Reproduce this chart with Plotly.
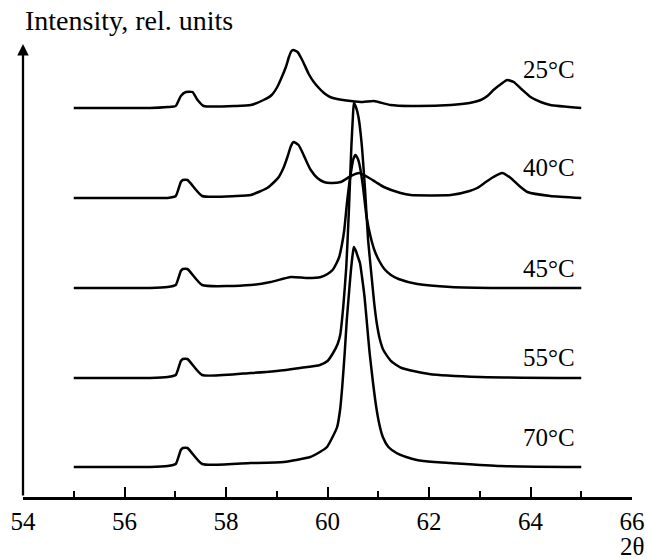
import plotly.graph_objects as go

# 2theta (deg) and intensity (rel. units), one trace per temperature
x_25 = [55.0, 56.5, 56.85, 57.01, 57.11, 57.21, 57.34, 57.44, 57.56, 58.2, 58.49, 58.74, 58.9, 59.01,
        59.1, 59.18, 59.24, 59.29, 59.33, 59.41, 59.47, 59.53, 59.63, 59.73, 59.83, 59.93, 60.05, 60.19,
        60.46, 60.7, 60.91, 61.24, 61.64, 62.43, 62.8, 63.02, 63.15, 63.27, 63.42, 63.54, 63.67, 63.82,
        64.0, 64.2, 64.39, 65.0]
y_25 = [38.9, 38.9, 39.0, 39.1, 40.1, 40.5, 40.5, 39.7, 39.1, 39.1, 39.2, 39.7, 40.2, 41.0,
        42.0, 43.0, 44.0, 44.6, 44.7, 44.5, 44.0, 43.4, 42.3, 41.5, 40.9, 40.4, 40.0, 39.8,
        39.6, 39.5, 39.6, 39.2, 39.1, 39.2, 39.4, 39.7, 40.1, 40.7, 41.3, 41.7, 41.5, 40.8,
        40.0, 39.5, 39.2, 38.9]

x_40 = [55.0, 56.5, 56.85, 57.01, 57.11, 57.15, 57.24, 57.53, 58.2, 58.49, 58.81, 58.95, 59.04, 59.14,
        59.21, 59.28, 59.33, 59.43, 59.52, 59.6, 59.67, 59.8, 59.93, 60.06, 60.26, 60.46, 60.62, 60.79,
        60.95, 61.11, 61.44, 61.64, 62.43, 62.8, 62.95, 63.12, 63.27, 63.44, 63.61, 63.78, 63.94, 64.39,
        65.0]
y_40 = [29.9, 29.9, 29.9, 30.1, 31.5, 31.7, 31.7, 30.1, 30.1, 30.2, 30.9, 31.5, 32.0, 33.0,
        34.0, 35.1, 35.5, 35.2, 34.3, 33.4, 32.7, 31.9, 31.5, 31.4, 31.5, 32.1, 32.4, 32.0,
        31.5, 31.0, 30.4, 30.2, 30.2, 30.6, 30.9, 31.5, 32.0, 32.4, 31.9, 31.1, 30.5, 30.1,
        29.9]

x_45 = [55.0, 56.5, 56.85, 57.01, 57.11, 57.15, 57.24, 57.53, 58.49, 58.88, 59.28, 59.6, 59.87, 60.0,
        60.1, 60.17, 60.23, 60.29, 60.33, 60.39, 60.46, 60.51, 60.55, 60.6, 60.64, 60.7, 60.77, 60.85,
        60.93, 61.02, 61.12, 61.25, 61.4, 61.77, 62.43, 63.41, 65.0]
y_45 = [20.9, 20.9, 21.0, 21.2, 22.6, 22.8, 22.8, 21.2, 21.2, 21.5, 22.0, 21.9, 22.0, 22.3,
        22.7, 23.3, 24.0, 25.4, 26.7, 29.7, 32.4, 33.8, 34.2, 33.8, 33.0, 31.0, 28.0, 26.0,
        24.6, 23.6, 22.8, 22.2, 21.8, 21.3, 21.0, 20.9, 20.9]

x_55 = [55.0, 56.5, 56.85, 57.01, 57.11, 57.15, 57.24, 57.53, 58.49, 59.0, 59.46, 59.85, 60.0, 60.11,
        60.2, 60.25, 60.31, 60.37, 60.42, 60.47, 60.5, 60.52, 60.56, 60.61, 60.67, 60.74, 60.8, 60.87,
        60.92, 60.97, 61.03, 61.1, 61.25, 61.46, 62.0, 63.0, 65.0]
y_55 = [11.9, 11.9, 12.0, 12.2, 13.6, 13.8, 13.8, 12.2, 12.4, 12.6, 12.9, 13.2, 13.6, 14.4,
        15.3, 16.2, 19.0, 23.0, 28.5, 35.0, 38.0, 39.4, 39.0, 38.0, 35.5, 30.7, 25.7, 22.0,
        19.4, 17.4, 15.8, 14.7, 13.6, 12.9, 12.3, 12.0, 11.9]

x_70 = [55.0, 56.5, 56.85, 57.01, 57.11, 57.15, 57.24, 57.53, 58.49, 59.14, 59.66, 59.85, 59.99, 60.1,
        60.19, 60.25, 60.29, 60.34, 60.38, 60.42, 60.46, 60.5, 60.52, 60.56, 60.6, 60.64, 60.68, 60.73,
        60.78, 60.83, 60.9, 60.96, 61.02, 61.09, 61.2, 61.36, 61.55, 61.76, 62.1, 62.42, 63.4, 65.0]
y_70 = [3.0, 3.0, 3.1, 3.3, 4.7, 4.9, 4.9, 3.3, 3.4, 3.5, 4.0, 4.5, 5.0, 6.0,
        7.0, 8.8, 11.0, 14.5, 17.7, 20.2, 22.6, 24.4, 25.0, 24.6, 24.0, 23.4, 22.0, 20.0,
        17.2, 14.4, 11.3, 9.0, 7.3, 6.0, 5.0, 4.4, 4.0, 3.7, 3.5, 3.4, 3.1, 3.0]

temps = ['25°C', '40°C', '45°C', '55°C', '70°C']
label_y = [42.8, 33.0, 22.9, 14.0, 6.0]
curves = [(x_25, y_25), (x_40, y_40), (x_45, y_45), (x_55, y_55), (x_70, y_70)]

serif = 'Liberation Serif, Times New Roman, serif'

fig = go.Figure()
for (xs, ys), name in zip(curves, temps):
    fig.add_trace(go.Scatter(x=xs, y=ys, name=name, mode='lines',
                             line=dict(color='black', width=2.5, shape='spline', smoothing=0.5)))

# temperature labels next to each curve
for name, ly in zip(temps, label_y):
    fig.add_annotation(x=64.36, y=ly, xref='x', yref='y', text=name, showarrow=False,
                       font=dict(family=serif, size=25, color='black'))

# y axis drawn as an arrow
fig.add_annotation(x=54, y=45.3, ax=54, ay=0, xref='x', yref='y', axref='x', ayref='y',
                   text='', showarrow=True, arrowhead=2, arrowsize=1, arrowwidth=2.3,
                   arrowcolor='black', standoff=0)

fig.add_annotation(x=0, y=1.048, xref='paper', yref='paper', xanchor='left', yanchor='middle',
                   text='Intensity, rel. units', showarrow=False,
                   font=dict(family=serif, size=28, color='black'))
fig.add_annotation(x=1.0, y=-0.108, xref='paper', yref='paper', xanchor='center', yanchor='middle',
                   text='2θ', showarrow=False, font=dict(family=serif, size=25, color='black'))

fig.update_xaxes(range=[54, 66], dtick=2, tick0=54, showgrid=False, zeroline=False,
                 showline=True, linecolor='black', linewidth=2.5, automargin=False,
                 ticks='inside', ticklen=10, tickwidth=2, tickcolor='black',
                 minor=dict(dtick=1, ticks='inside', ticklen=6, tickwidth=2, tickcolor='black'),
                 tickfont=dict(family=serif, size=25, color='black'))
fig.update_yaxes(range=[0, 45.5], visible=False)

fig.update_layout(width=647, height=559, margin=dict(l=23, r=15, t=42, b=62),
                  plot_bgcolor='white', paper_bgcolor='white', showlegend=False)

# drop the default body margin so the figure fills the window exactly
fig.write_html("out.html", config={'displayModeBar': False},
               post_script="document.body.style.margin='0';")
